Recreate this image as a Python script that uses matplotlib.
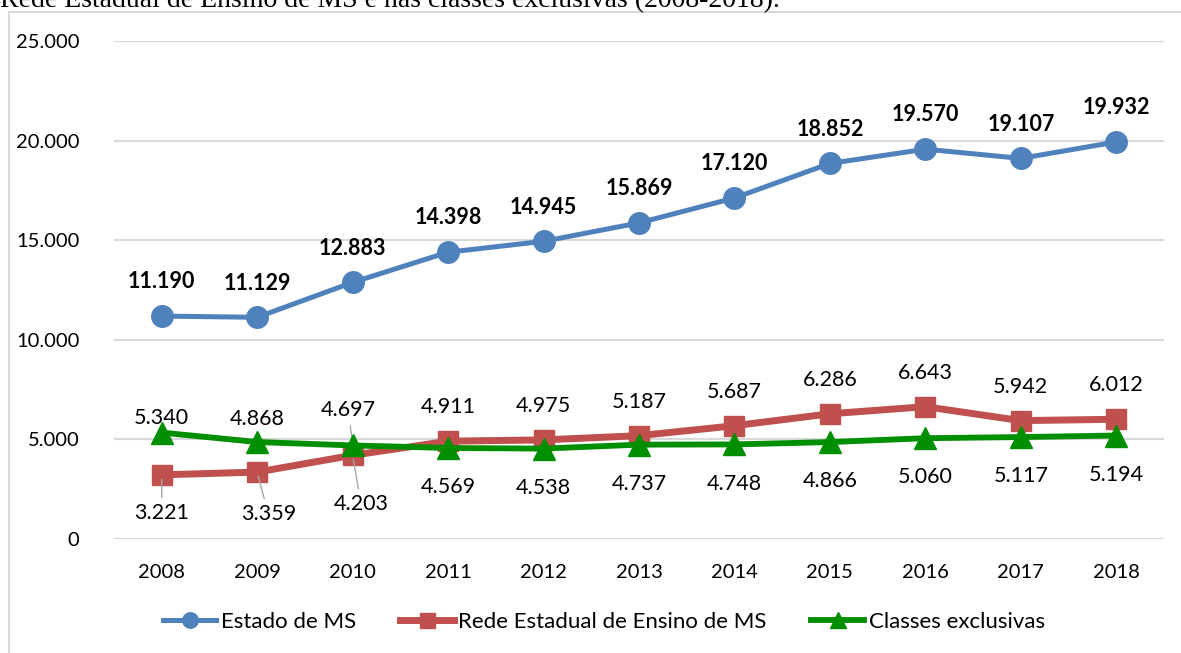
import matplotlib
matplotlib.use('Agg')
import matplotlib.pyplot as plt
from matplotlib.patches import Rectangle
from matplotlib.ticker import FuncFormatter

plt.rcParams['font.family'] = ['Lato', 'DejaVu Sans']

anos = ['2008', '2009', '2010', '2011', '2012', '2013', '2014', '2015', '2016', '2017', '2018']
estado_ms = [11190, 11129, 12883, 14398, 14945, 15869, 17120, 18852, 19570, 19107, 19932]
rede_estadual = [3221, 3359, 4203, 4911, 4975, 5187, 5687, 6286, 6643, 5942, 6012]
classes_excl = [5340, 4868, 4697, 4569, 4538, 4737, 4748, 4866, 5060, 5117, 5194]


def fmt(v):
    return f'{v:,.0f}'.replace(',', '.')


W, H = 1181, 653
fig = plt.figure(figsize=(W / 100, H / 100), dpi=100)
ax = fig.add_axes([114 / W, 1 - 539 / H, 1050 / W, 498 / H])

x = list(range(len(anos)))
azul, verm, verde = '#4F81BD', '#C0504D', '#008F00'

ax.plot(x, estado_ms, color=azul, lw=3.6, marker='o', ms=15.5, label='Estado de MS', zorder=3)
ax.plot(x, rede_estadual, color=verm, lw=5, marker='s', ms=15, label='Rede Estadual de Ensino de MS', zorder=3)
ax.plot(x, classes_excl, color=verde, lw=4.2, marker='^', ms=15.5, label='Classes exclusivas', zorder=4)

ax.set_xlim(-0.5, 10.5)
ax.set_ylim(0, 25000)
ax.set_yticks(range(0, 25001, 5000))
ax.yaxis.set_major_formatter(FuncFormatter(lambda v, p: fmt(v)))
ax.set_xticks(x)
ax.set_xticklabels(anos)
ax.tick_params(axis='both', length=0, labelsize=14.5, colors='#000000')
ax.tick_params(axis='y', pad=25)
ax.tick_params(axis='x', pad=18)
ax.grid(axis='y', color='#d9d9d9', lw=1.5)
ax.set_axisbelow(True)
for s in ax.spines.values():
    s.set_visible(False)

# rótulos: (dx, dy) em pontos, baseline
for i, v in enumerate(estado_ms):
    ax.annotate(fmt(v), (i, v), xytext=(0, 20), textcoords='offset points',
                ha='center', va='baseline', fontsize=15.5, fontweight='bold')

leader = dict(arrowstyle='-', color='#a6a6a6', lw=1, shrinkA=2, shrinkB=3)

pos_rede = [(0, -32), (8, -34.5), (6, -39.5)] + [(0, 20)] * 8
for i, v in enumerate(rede_estadual):
    dx, dy = pos_rede[i]
    ax.annotate(fmt(v), (i, v), xytext=(dx, dy), textcoords='offset points',
                ha='center', va='baseline', fontsize=15.5,
                arrowprops=leader if i < 3 else None)

pos_excl = [(0, 6), (0, 12), (-3, 21)] + [(0, -32.5)] * 8
for i, v in enumerate(classes_excl):
    dx, dy = pos_excl[i]
    ax.annotate(fmt(v), (i, v), xytext=(dx, dy), textcoords='offset points',
                ha='center', va='baseline', fontsize=15.5,
                arrowprops=leader if i == 2 else None)

fig.legend(loc='center', bbox_to_anchor=(604 / W, 1 - 622 / H), ncol=3, frameon=False,
           fontsize=16, handlelength=2.4, handletextpad=0.2, columnspacing=2.0,
           markerscale=0.72)

# moldura do gráfico e legenda cortada no topo
fig.add_artist(Rectangle((9 / W, -0.05), 1.2, 1 - 12 / H + 0.05, transform=fig.transFigure,
                         fill=False, edgecolor='#d9d9d9', lw=1.5))
fig.text(0, 1 - 7 / H, 'Rede Estadual de Ensino de MS e nas classes exclusivas (2008-2018).',
         family=['Liberation Serif', 'DejaVu Serif'], fontsize=20, va='baseline', ha='left')

fig.savefig('out.png', dpi=100)
